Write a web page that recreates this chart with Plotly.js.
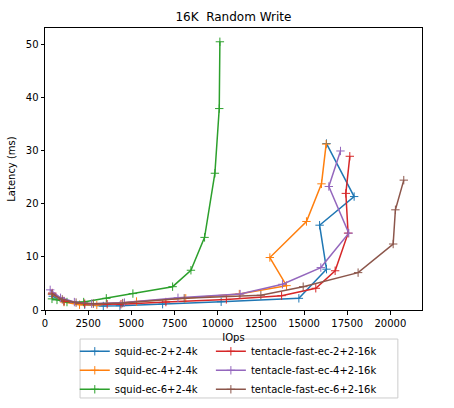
<!DOCTYPE html>
<html>
<head>
<meta charset="utf-8">
<script src="https://cdn.plot.ly/plotly-3.0.1.min.js"></script>
<style>html,body{margin:0;padding:0;background:#fff;}#chart{width:454px;height:408px;}</style>
</head>
<body>
<div id="chart"></div>
<script>
// Series names
const seriesNames = [
  "squid-ec-2+2-4k", "squid-ec-4+2-4k", "squid-ec-6+2-4k",
  "tentacle-fast-ec-2+2-16k", "tentacle-fast-ec-4+2-16k", "tentacle-fast-ec-6+2-16k"
];
const seriesColors = ["#1f77b4", "#ff7f0e", "#2ca02c", "#d62728", "#9467bd", "#8c564b"];

// IOps (x) and latency in ms (y) per series
const squid22_iops = [450, 1100, 2300, 3375, 4340, 6810, 10200, 14700, 16300, 15900, 17900, 16300];
const squid22_lat  = [2.6, 1.6, 1.0, 0.75, 0.8, 1.1, 1.55, 2.2, 7.7, 16.0, 21.4, 31.4];

const squid42_iops = [420, 1100, 2000, 3000, 5300, 8150, 11250, 13985, 13020, 15140, 16010, 16280];
const squid42_lat  = [3.0, 1.5, 1.0, 0.95, 1.6, 2.2, 3.0, 4.6, 9.9, 16.7, 23.8, 31.3];

const squid62_iops = [405, 694, 1273, 2240, 3550, 5090, 7390, 8450, 9240, 9838, 10090, 10127];
const squid62_lat  = [2.1, 1.9, 1.5, 1.5, 2.2, 3.1, 4.4, 7.5, 13.7, 25.8, 38.0, 50.6];

const tent22_iops = [420, 1100, 2300, 3600, 4400, 7000, 10500, 13700, 15680, 16800, 17550, 17420, 17650];
const tent22_lat  = [3.2, 1.7, 1.2, 1.1, 1.1, 1.5, 2.0, 2.7, 4.1, 7.4, 14.5, 22.0, 29.0];

const tent42_iops = [300, 900, 1700, 2700, 4600, 7700, 11300, 13750, 15970, 17590, 16435, 17110];
const tent42_lat  = [3.8, 2.3, 1.5, 1.2, 1.4, 2.3, 3.0, 4.85, 8.0, 14.5, 23.3, 30.0];

const tent62_iops = [400, 1000, 1800, 2800, 4500, 8060, 12500, 14950, 18130, 20160, 20290, 20775];
const tent62_lat  = [3.0, 2.0, 1.4, 1.2, 1.3, 2.2, 2.8, 4.4, 7.05, 12.45, 18.9, 24.5];

const xTicks = [0, 2500, 5000, 7500, 10000, 12500, 15000, 17500, 20000];
const yTicks = [0, 10, 20, 30, 40, 50];

const xs = [squid22_iops, squid42_iops, squid62_iops, tent22_iops, tent42_iops, tent62_iops];
const ys = [squid22_lat, squid42_lat, squid62_lat, tent22_lat, tent42_lat, tent62_lat];

const traces = seriesNames.map((name, i) => ({
  type: "scatter",
  mode: "lines+markers",
  name: name,
  x: xs[i],
  y: ys[i],
  line: {color: seriesColors[i], width: 1.5},
  marker: {symbol: "cross-thin-open", size: 6, color: seriesColors[i], line: {color: seriesColors[i], width: 1}},
  legend: i < 3 ? "legend" : "legend2"
}));

const font = {family: "DejaVu Sans, sans-serif", size: 10, color: "#000"};

const axisCommon = {
  showgrid: false,
  zeroline: false,
  showline: true,
  linecolor: "#000",
  linewidth: 1,
  mirror: true,
  ticks: "outside",
  ticklen: 3.5,
  tickwidth: 1,
  tickcolor: "#000",
  tickfont: {family: "DejaVu Sans, sans-serif", size: 10, color: "#000"}
};

const layout = {
  width: 454,
  height: 408,
  margin: {l: 45, r: 32, t: 28, b: 98, autoexpand: false},
  paper_bgcolor: "#fff",
  plot_bgcolor: "#fff",
  font: font,
  title: {text: "16K\u00a0 Random Write", font: {family: "DejaVu Sans, sans-serif", size: 12, color: "#000"}, x: 0.514, xanchor: "center", y: 0.958, yanchor: "middle"},
  xaxis: Object.assign({}, axisCommon, {
    range: [0, 21830],
    tickvals: xTicks,
    ticktext: xTicks.map(String),
    title: {text: "IOps", font: {family: "DejaVu Sans, sans-serif", size: 10, color: "#000"}, standoff: 6}
  }),
  yaxis: Object.assign({}, axisCommon, {
    range: [0, 53.2],
    tickvals: yTicks,
    ticktext: yTicks.map(String),
    title: {text: "Latency (ms)", font: {family: "DejaVu Sans, sans-serif", size: 10, color: "#000"}, standoff: 8}
  }),
  showlegend: true,
  legend: {
    x: 0.079, xanchor: "left", y: -0.095, yanchor: "top",
    orientation: "v", bgcolor: "rgba(0,0,0,0)", borderwidth: 0,
    font: {family: "DejaVu Sans, sans-serif", size: 10, color: "#000"},
    tracegroupgap: 0
  },
  legend2: {
    x: 0.44, xanchor: "left", y: -0.095, yanchor: "top",
    orientation: "v", bgcolor: "rgba(0,0,0,0)", borderwidth: 0,
    font: {family: "DejaVu Sans, sans-serif", size: 10, color: "#000"},
    tracegroupgap: 0
  },
  shapes: [{
    type: "rect", xref: "paper", yref: "paper",
    x0: 0.093, x1: 0.936, y0: -0.312, y1: -0.103,
    line: {color: "#cccccc", width: 1}, fillcolor: "rgba(255,255,255,0.8)", layer: "below"
  }]
};

Plotly.newPlot("chart", traces, layout, {staticPlot: true, displayModeBar: false});
</script>
</body>
</html>
